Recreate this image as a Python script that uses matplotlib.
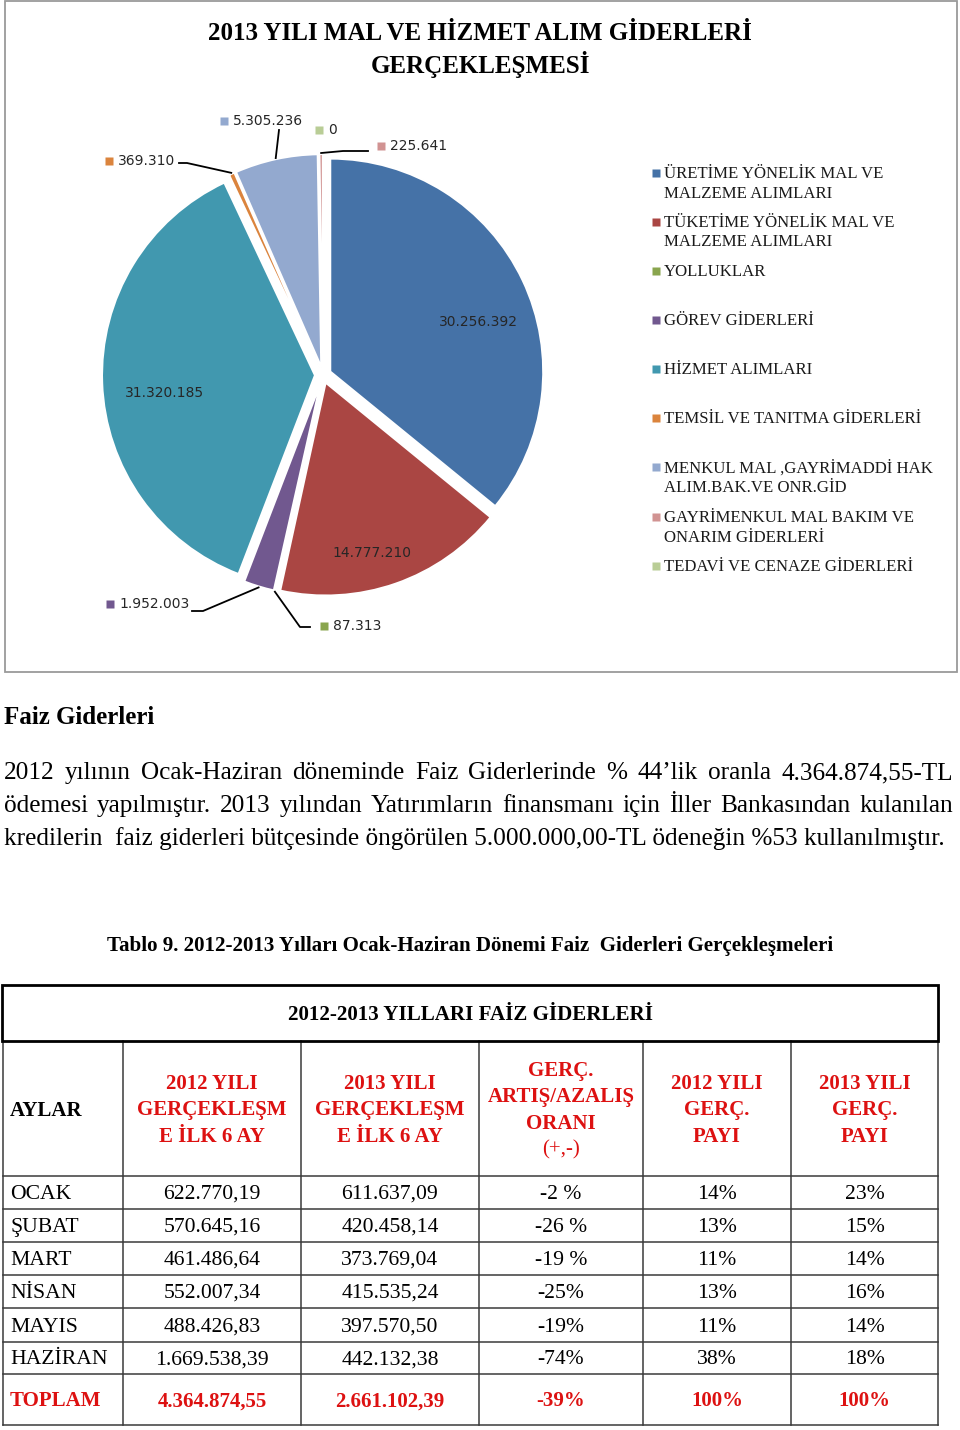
import matplotlib
matplotlib.use("Agg")
import matplotlib.pyplot as plt
from matplotlib.patches import Rectangle
import numpy as np

# ---------------- data ----------------
pie_title = ["2013 YILI MAL VE HİZMET ALIM GİDERLERİ", "GERÇEKLEŞMESİ"]
pie_categories = [
    "ÜRETİME YÖNELİK MAL VE\nMALZEME ALIMLARI",
    "TÜKETİME YÖNELİK MAL VE\nMALZEME ALIMLARI",
    "YOLLUKLAR",
    "GÖREV GİDERLERİ",
    "HİZMET ALIMLARI",
    "TEMSİL VE TANITMA GİDERLERİ",
    "MENKUL MAL ,GAYRİMADDİ HAK\nALIM.BAK.VE ONR.GİD",
    "GAYRİMENKUL MAL BAKIM VE\nONARIM GİDERLERİ",
    "TEDAVİ VE CENAZE GİDERLERİ",
]
pie_values = [30256392, 14777210, 87313, 1952003, 31320185, 369310, 5305236, 225641, 0]
pie_colors = ['#4572A7', '#AA4643', '#89A54E', '#71588F', '#4198AF',
              '#DB843D', '#93A9CF', '#D19392', '#B9CD96']

section_title = "Faiz Giderleri"
para_lines = [
    "2012 yılının Ocak-Haziran döneminde Faiz Giderlerinde % 44’lik oranla 4.364.874,55-TL",
    "ödemesi yapılmıştır. 2013 yılından Yatırımların finansmanı için İller Bankasından kulanılan",
    "kredilerin  faiz giderleri bütçesinde öngörülen 5.000.000,00-TL ödeneğin %53 kullanılmıştır.",
]
table_caption = "Tablo 9. 2012-2013 Yılları Ocak-Haziran Dönemi Faiz  Giderleri Gerçekleşmeleri"
table_title = "2012-2013 YILLARI FAİZ GİDERLERİ"
col_headers = ["AYLAR",
               "2012 YILI\nGERÇEKLEŞM\nE İLK 6 AY",
               "2013 YILI\nGERÇEKLEŞM\nE İLK 6 AY",
               "GERÇ.\nARTIŞ/AZALIŞ\nORANI\n(+,-)",
               "2012 YILI\nGERÇ.\nPAYI",
               "2013 YILI\nGERÇ.\nPAYI"]
months = ["OCAK", "ŞUBAT", "MART", "NİSAN", "MAYIS", "HAZİRAN"]
gider_2012 = ["622.770,19", "570.645,16", "461.486,64", "552.007,34", "488.426,83", "1.669.538,39"]
gider_2013 = ["611.637,09", "420.458,14", "373.769,04", "415.535,24", "397.570,50", "442.132,38"]
degisim = ["-2 %", "-26 %", "-19 %", "-25%", "-19%", "-74%"]
pay_2012 = ["14%", "13%", "11%", "13%", "11%", "38%"]
pay_2013 = ["23%", "15%", "14%", "16%", "14%", "18%"]
total_row = ["TOPLAM", "4.364.874,55", "2.661.102,39", "-39%", "100%", "100%"]

# ---------------- figure ----------------
W, H = 960, 1430
fig = plt.figure(figsize=(W / 100, H / 100), dpi=100)
ax = fig.add_axes([0, 0, 1, 1])
SERIF = "Liberation Serif"
SANS = "DejaVu Sans"
RED = "#dd1111"
DY = 2  # small baseline nudge for serif text

# chart frame
ax.add_patch(Rectangle((5, 1), 952, 671, fill=False, edgecolor="#9a9a9a", lw=1.3, zorder=1))

# title
ax.text(480, 33, pie_title[0], ha="center", va="center", family=SERIF, weight="bold", fontsize=18)
ax.text(480, 65, pie_title[1], ha="center", va="center", family=SERIF, weight="bold", fontsize=18)

# pie (y axis inverted -> startangle 270 and counterclock True give clockwise from top)
PC = (323, 375)
PR = 213
wedges, _ = ax.pie(pie_values, colors=pie_colors, startangle=270, counterclock=True,
                   center=PC, radius=PR, explode=[8] * len(pie_values), frame=True,
                   wedgeprops=dict(edgecolor="white", linewidth=1.5))

def fmt(v):
    return f"{v:,}".replace(",", ".")

def edge_point(w, extra=0.0):
    t = np.deg2rad((w.theta1 + w.theta2) / 2)
    cx, cy = w.center
    return cx + (w.r + extra) * np.cos(t), cy + (w.r + extra) * np.sin(t)

# inside labels
inside = {0: (478, 322), 1: (372, 553), 4: (165, 393)}
for i, (x, y) in inside.items():
    ax.text(x, y, fmt(pie_values[i]), ha="center", va="center", family=SANS,
            fontsize=10, color="#262626")

# outside labels with legend keys and leader lines
outside = {
    2: ((324, 626), [(310, 627), (300, 627)]),
    3: ((110, 604), [(192, 611), (203, 611)]),
    5: ((109, 161), [(179, 163), (187, 163)]),
    6: ((224, 121), [(279, 130)]),
    7: ((381, 146), [(368, 151), (343, 151)]),
    8: ((319, 130), []),
}
for i, ((sx, sy), pts) in outside.items():
    ax.plot([sx], [sy], marker="s", ms=6, mec="none", color=pie_colors[i], zorder=5)
    ax.text(sx + 9, sy, fmt(pie_values[i]), ha="left", va="center", family=SANS,
            fontsize=10, color="#262626")
    if pts:
        ex, ey = edge_point(wedges[i], 1)
        xs = [p[0] for p in pts] + [ex]
        ys = [p[1] for p in pts] + [ey]
        ax.plot(xs, ys, color="black", lw=1.3, zorder=4)

# legend
leg_y = [173, 222, 271, 320, 369, 418, 467, 517, 566]
for i, lab in enumerate(pie_categories):
    y = leg_y[i]
    ax.plot([656], [y], marker="s", ms=5.5, mec="none", color=pie_colors[i], zorder=5)
    for j, line in enumerate(lab.split("\n")):
        ax.text(664, y + j * 19.5 + 1, line, ha="left", va="center", family=SERIF,
                fontsize=12.1, color="#1a1a1a")

# section text
ax.text(4, 715 + DY, section_title, ha="left", va="center", family=SERIF, weight="bold", fontsize=18)

renderer = fig.canvas.get_renderer()

def justify(line, y, x0, x1, **kw):
    words = line.split(" ")
    texts = [ax.text(0, y, w, ha="left", va="center", **kw) for w in words]
    widths = [t.get_window_extent(renderer).width for t in texts]
    gap = (x1 - x0 - sum(widths)) / (len(words) - 1)
    x = x0
    for t, w in zip(texts, widths):
        t.set_x(x)
        x += w + gap

para_kw = dict(family=SERIF, fontsize=18.2, color="black")
para_y = [771 + DY, 804 + DY, 837 + DY]
justify(para_lines[0], para_y[0], 4, 953, **para_kw)
justify(para_lines[1], para_y[1], 4, 953, **para_kw)
ax.text(4, para_y[2], para_lines[2], ha="left", va="center", **para_kw)

# caption
ax.text(470, 944 + DY, table_caption, ha="center", va="center", family=SERIF, weight="bold", fontsize=15.1)

# ---------------- table ----------------
col_x = [3, 123, 301, 479, 643, 791, 938]
row_y = [1176, 1209, 1242, 1275, 1308, 1342, 1374, 1425]
T_TOP, T_MID = 985, 1041
LC = "#3a3a3a"
# title row box (thick)
ax.add_patch(Rectangle((2, T_TOP), col_x[-1] - 2, T_MID - T_TOP, fill=False, edgecolor="black", lw=2.0, zorder=3))
ax.text((col_x[0] + col_x[-1]) / 2, 1013 + DY, table_title, ha="center", va="center",
        family=SERIF, weight="bold", fontsize=15.1)
# vertical lines
for x in col_x:
    ax.plot([x, x], [T_MID, row_y[-1]], color=LC, lw=1.1, zorder=2)
# horizontal lines
for y in row_y:
    ax.plot([col_x[0], col_x[-1]], [y, y], color=LC, lw=1.1, zorder=2)

# header
hc = (T_MID + row_y[0]) / 2 + DY
ax.text(10, hc, col_headers[0], ha="left", va="center", family=SERIF, weight="bold", fontsize=15)
for c in range(1, 6):
    lines = col_headers[c].split("\n")
    n = len(lines)
    cx = (col_x[c] + col_x[c + 1]) / 2
    for j, line in enumerate(lines):
        y = hc + (j - (n - 1) / 2) * 26.3
        wt = "normal" if line.startswith("(") else "bold"
        ax.text(cx, y, line, ha="center", va="center", family=SERIF, weight=wt,
                fontsize=15, color=RED)

# body
cols = [gider_2012, gider_2013, degisim, pay_2012, pay_2013]
for r, m in enumerate(months):
    y = (row_y[r] + row_y[r + 1]) / 2 + DY
    ax.text(10, y, m, ha="left", va="center", family=SERIF, fontsize=15.6)
    for c, colvals in enumerate(cols, start=1):
        cx = (col_x[c] + col_x[c + 1]) / 2
        ax.text(cx, y, colvals[r], ha="center", va="center", family=SERIF, fontsize=15.6)

ty = (row_y[-2] + row_y[-1]) / 2 + DY
ax.text(10, ty, total_row[0], ha="left", va="center", family=SERIF, weight="bold", fontsize=15, color=RED)
for c in range(1, 6):
    cx = (col_x[c] + col_x[c + 1]) / 2
    ax.text(cx, ty, total_row[c], ha="center", va="center", family=SERIF, weight="bold",
            fontsize=15, color=RED)

ax.set_xlim(0, W)
ax.set_ylim(H, 0)
ax.set_aspect("auto")
ax.axis("off")
fig.savefig("out.png", dpi=100, facecolor="white")
